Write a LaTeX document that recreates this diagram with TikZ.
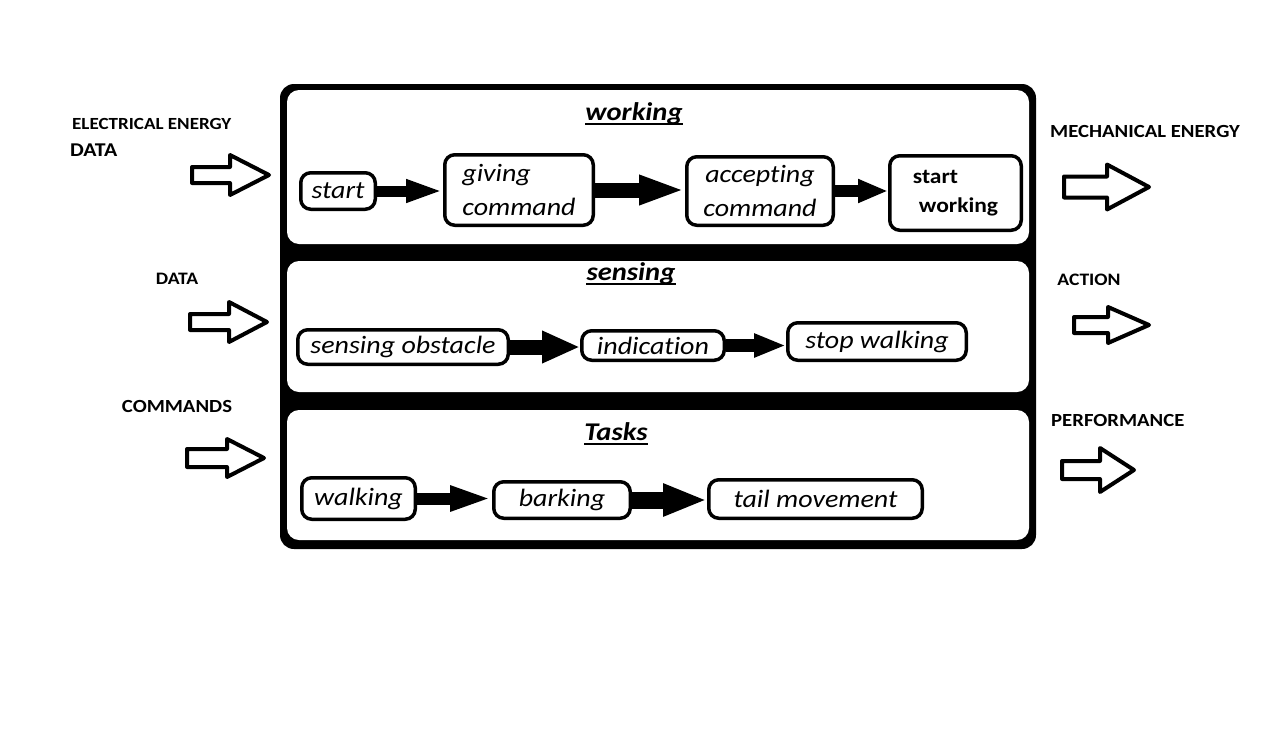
\documentclass[tikz,border=0pt]{standalone}
\usepackage{fontspec}
\setmainfont{Carlito}[FakeStretch=1.12, Ligatures=NoCommon]
\usetikzlibrary{arrows.meta}
\begin{document}
\begin{tikzpicture}[x=1pt,y=-1pt,
  box/.style={draw, line width=3.5pt, rounded corners=10pt, inner sep=0pt, font=\fontsize{25}{34}\selectfont\itshape},
  ttl/.style={font=\fontsize{25.5}{28}\selectfont\bfseries\itshape, inner sep=0pt},
  uline/.style={line width=2pt},
  lbl/.style={font=\fontsize{18.5}{20}\selectfont\bfseries, inner sep=0pt},
  blockarr/.style={draw, line width=4pt, line join=round, fill=white},
  flow/.style={line width=#1}
]
\useasboundingbox (0,0) rectangle (1280,734);
\newcommand{\hollowarrow}[6]{\draw[blockarr] (#1,#4-#5) -- (#2,#4-#5) -- (#2,#4-#6) -- (#3,#4) -- (#2,#4+#6) -- (#2,#4+#5) -- (#1,#4+#5) -- cycle;}
% frame and panels
\fill[black, rounded corners=14pt] (280,84) rectangle (1036,549);
\fill[white, rounded corners=12pt] (287,90) rectangle (1029,244);
\fill[white, rounded corners=12pt] (287,261) rectangle (1029,392);
\fill[white, rounded corners=12pt] (287,410) rectangle (1029,540);
% titles
\node[ttl] (t1) at (634,114) {working};
\node[ttl] (t2) at (631,274) {sensing};
\node[ttl] (t3) at (616,432) {Tasks};
\draw[uline] ([yshift=-3pt]t1.base west) -- ([yshift=-3pt]t1.base east);
\draw[uline] ([yshift=-3pt]t2.base west) -- ([yshift=-3pt]t2.base east);
\draw[uline] ([yshift=-3pt]t3.base west) -- ([yshift=-3pt]t3.base east);
% working row
\node[box, minimum width=74.5pt, minimum height=36.5pt] (start) at (338,191) {start};
\node[box, minimum width=148.5pt, minimum height=70.5pt, align=left] (giving) at (519,190) {giving\\command};
\node[box, minimum width=146.5pt, minimum height=68.5pt, align=center] (accept) at (760,191) {accepting\\command};
\node[box, minimum width=131.5pt, minimum height=74.5pt, align=left, font=\fontsize{21}{29}\selectfont\bfseries] (sw) at (955.5,193) {start\\\hspace*{6pt}working};
% sensing row
\node[box, minimum width=210.5pt, minimum height=34.5pt] (obst) at (403,347) {sensing obstacle};
\node[box, minimum width=142.5pt, minimum height=29.5pt] (ind) at (653,345.5) {indication};
\node[box, minimum width=178.5pt, minimum height=37.5pt] (stop) at (877,341.5) {stop walking};
% tasks row
\node[box, minimum width=113.5pt, minimum height=41.5pt] (walk) at (358.5,498.5) {walking};
\node[box, minimum width=136.5pt, minimum height=36.5pt] (bark) at (562,500) {barking};
\node[box, minimum width=213.5pt, minimum height=38.5pt] (tail) at (815.5,499) {tail movement};
% flow arrows
\draw[flow=11pt, -{Triangle[length=37pt,width=21pt]}] (start.east) -- (start.east -| giving.west);
\draw[flow=15pt, -{Triangle[length=46pt,width=27pt]}] (giving.east) -- (giving.east -| accept.west);
\draw[flow=12pt, -{Triangle[length=30pt,width=22pt]}] (accept.east) -- (accept.east -| sw.west);
\draw[flow=15pt, -{Triangle[length=38pt,width=30pt]}] (obst.east) -- (obst.east -| ind.west);
\draw[flow=13pt, -{Triangle[length=32pt,width=22pt]}] (ind.east) -- (ind.east -| stop.west);
\draw[flow=12pt, -{Triangle[length=42pt,width=23pt]}] (walk.east) -- (walk.east -| bark.west);
\draw[flow=17pt, -{Triangle[length=44pt,width=30pt]}] (bark.east) -- (bark.east -| tail.west);
% input / output labels
\node[lbl, anchor=west, font=\fontsize{17}{20}\selectfont\bfseries] (l1) at (72,124) {ELECTRICAL ENERGY};
\node[lbl, anchor=west, font=\fontsize{19.5}{22}\selectfont\bfseries] (l2) at (70,150) {DATA};
\node[lbl, font=\fontsize{17.5}{20}\selectfont\bfseries] (l3) at (177,279) {DATA};
\node[lbl] (l4) at (177,406) {COMMANDS};
\node[lbl, anchor=west] (r1) at (1050,131) {MECHANICAL ENERGY};
\node[lbl, font=\fontsize{17.5}{20}\selectfont\bfseries] (r2) at (1089,280) {ACTION};
\node[lbl, anchor=west] (r3) at (1051,420) {PERFORMANCE};
% hollow arrows
\hollowarrow{192}{230}{269}{175}{8}{20}
\hollowarrow{190}{229}{267}{322}{8}{20}
\hollowarrow{187}{227}{264}{458}{9}{19}
\hollowarrow{1064}{1107}{1149}{187}{10.5}{22.5}
\hollowarrow{1074}{1108}{1149}{325}{8}{18}
\hollowarrow{1062}{1100}{1134}{470}{9}{22}
\end{tikzpicture}
\end{document}
